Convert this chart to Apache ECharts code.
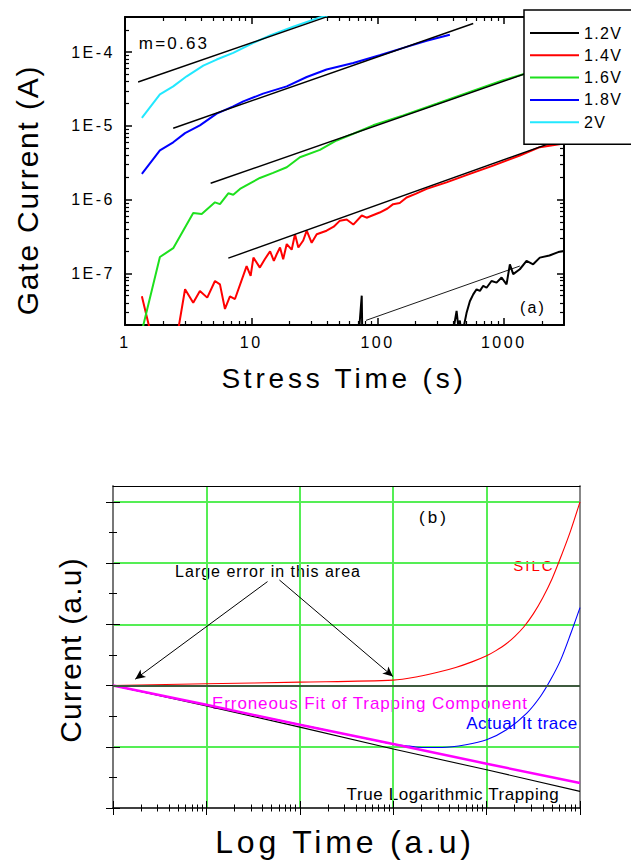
<!DOCTYPE html>
<html>
<head>
<meta charset="utf-8">
<title>Gate current vs stress time</title>
<script src="https://cdn.jsdelivr.net/npm/echarts@6/dist/echarts.min.js"></script>
<style>
html,body{margin:0;padding:0;background:#fff;}
#main{width:631px;height:861px;}
</style>
</head>
<body>
<div id="main"></div>
<script>
// ---- panel (a): gate current vs stress time, [time (s), current (A)]
var legendNames = ['1.2V', '1.4V', '1.6V', '1.8V', '2V'];
var lineColors = ['#000000', '#ff0000', '#1de01d', '#0000ff', '#22e8ff'];

var v12 = [[66,5e-9],[72,2e-8],[75,5e-8],[76.5,5e-9],[390,5e-9],[405,2e-8],[423,3.1e-8],[435,2e-8],[449,2.3e-8],
    [462,1.5e-8],[476,1.7e-8],[507,2.9e-8],[539,4.2e-8],[573,5.2e-8],[609,6.1e-8],[647,5.8e-8],[688,6.8e-8],
    [731,6.4e-8],[800,7.9e-8],[877,7.5e-8],[961,8.8e-8],[1052,7.1e-8],[1118,1.33e-7],[1188,9.8e-8],[1340,1.14e-7],
    [1515,1.48e-7],[1709,1.33e-7],[1930,1.64e-7],[2300,1.75e-7],[2700,1.95e-7],[3000,2.02e-7]];
var v14 = [[1.36,4.9e-8],[1.7,1e-8],[2.5,1e-8],[2.99,6.1e-8],[3.47,4.0e-8],[3.92,5.8e-8],[4.48,4.7e-8],[5.16,7.9e-8],
    [5.65,7.1e-8],[6.19,3.3e-8],[6.78,4.9e-8],[7.43,4.5e-8],[9.19,1.26e-7],[9.89,9.3e-8],[10.4,1.64e-7],[11.7,1.2e-7],
    [12.8,1.56e-7],[14.1,2.0e-7],[15.1,1.48e-7],[15.9,1.82e-7],[16.9,2.25e-7],[17.9,1.56e-7],[19.1,2.5e-7],[20.9,2.1e-7],
    [22.2,3.4e-7],[23.6,2.25e-7],[25.8,2.8e-7],[27.5,3.8e-7],[30.1,2.6e-7],[33,3.4e-7],[39.5,3.8e-7],[45,4.3e-7],
    [50.4,5.2e-7],[57,5.4e-7],[64.3,4.6e-7],[75,6.1e-7],[82,5.7e-7],[104,6.7e-7],[120,7.6e-7],[133,8.7e-7],[150,9.0e-7],
    [170,1.07e-6],[200,1.2e-6],[245,1.4e-6],[352,1.72e-6],[539,2.24e-6],[824,2.9e-6],[1340,3.97e-6],[1930,5.15e-6],[3000,5.8e-6]];
var v16 = [[1.3,1.2e-8],[1.89,1.67e-7],[2.41,2.2e-7],[3.47,6.6e-7],[4.05,6.4e-7],[5.16,9.2e-7],[5.65,8.7e-7],[6.58,1.22e-6],
    [7.2,1.17e-6],[8.14,1.4e-6],[9.77,1.67e-6],[11.7,1.97e-6],[14.9,2.31e-6],[19.1,2.75e-6],[24.3,3.77e-6],[35,4.74e-6],
    [47.4,6.35e-6],[64.3,7.83e-6],[92.4,1.02e-5],[160,1.39e-5],[294,2.0e-5],[539,2.88e-5],[989,4.16e-5],[1425,5.02e-5],
    [2000,5.9e-5],[2600,6.6e-5]];
var v18 = [[1.36,2.24e-6],[1.89,4.65e-6],[2.41,6.0e-6],[2.99,8.0e-6],[3.92,1.02e-5],[5.32,1.47e-5],[7.2,1.84e-5],[8.65,2.15e-5],
    [12.4,2.74e-5],[19.1,3.44e-5],[27.5,4.61e-5],[39.5,5.82e-5],[64.3,7.15e-5],[104,9.1e-5],[170,1.18e-4],[245,1.43e-4],[374,1.72e-4]];
var v20 = [[1.36,1.29e-5],[1.89,2.68e-5],[2.41,3.44e-5],[3.08,4.71e-5],[4.17,6.59e-5],[5.32,7.95e-5],[7.2,9.8e-5],
    [10.4,1.34e-4],[14.1,1.69e-4],[21.5,2.21e-4],[35,2.96e-4],[40,3.1e-4]];

// straight power-law fits (black)
var fit12 = [[81,2.31e-8],[1340,1.26e-7]];
var fit14 = [[6.58,1.61e-7],[3000,6.8e-6]];
var fit16 = [[4.77,1.67e-6],[3000,7.8e-5]];
var fit18 = [[2.41,9.3e-6],[573,2.45e-4]];
var fit20 = [[1.27,3.94e-5],[39.5,3.02e-4]];

// ---- panel (b): current (a.u) vs log time (a.u)
var silcT = [1,10,100,1000,1860,3076,4667,7080,10000,12590,15850,19950,25120,31620,39810,50120,63100,79430,100000];
var silcI = [0,0.028,0.055,0.088,0.147,0.22,0.294,0.39,0.485,0.57,0.67,0.8,0.96,1.17,1.43,1.74,2.12,2.53,3.0];
var actualT = [1,10,100,1000,1500,2027,3343,6000,10000,16330,26970,37670,48380,62140,79810,100000];
var actualI = [0,-0.319,-0.637,-0.956,-0.99,-1.011,-1.011,-0.967,-0.886,-0.723,-0.45,-0.179,0.093,0.419,0.854,1.273];
var fitT = [1,10,100,1000,10000,100000];
var fitI = [0,-0.315,-0.641,-0.956,-1.277,-1.593];
var trueT = [1,10,100,1000,10000,100000];
var trueI = [0,-0.332,-0.679,-1.038,-1.375,-1.729];

// ticks
var minorMult = [2,3,4,5,6,7,8,9];
var bMajorY = [-2,-1,0,1,2,3];
var bMinorY = [-1.5,-0.5,0.5,1.5,2.5];

var font = '"Liberation Sans", Arial, sans-serif';

// the original export spreads its letters out; px of extra spacing per text
var spacing = {
    'Gate Current (A)': 1.8, 'Stress Time (s)': 3.8, 'Current (a.u)': 1.2, 'Log Time (a.u)': 3.8,
    'm=0.63': 2.2, '(a)': 2.2, '(b)': 3, 'SILC': 2,
    'Large error in this area': 1, 'Erroneous Fit of Trapping Component': 0.9,
    'Actual It trace': 0.5, 'True Logarithmic Trapping': 0.6,
    '1.2V': 1.3, '1.4V': 1.3, '1.6V': 1.3, '1.8V': 1.3, '2V': 1.3
};

function pairs(xs, ys) {
    var out = [];
    for (var i = 0; i < xs.length; i++) out.push([xs[i], ys[i]]);
    return out;
}
function logMinor(lo, hi) {
    var out = [];
    for (var d = Math.floor(lo); d < hi; d++) {
        for (var k = 0; k < minorMult.length; k++) {
            var v = d + Math.log10(minorMult[k]);
            if (v > lo && v < hi) out.push(v);
        }
    }
    return out;
}
function isPow(v) {
    var e = Math.log10(v);
    return Math.abs(e - Math.round(e)) < 1e-6;
}

var aX = [1, 3000], aY = [2e-8, 3e-4];
var aLX = [0, Math.log10(3000)], aLY = [Math.log10(2e-8), Math.log10(3e-4)];
var gridA = {left: 125, top: 17, width: 439, height: 308};
var gridB = {left: 113, top: 486, width: 467, height: 322};

function g(r) { return {left: r.left, top: r.top, width: r.width, height: r.height}; }
// helper axis: everything hidden unless switched on, never snapped to zero
function blankAxis(extra) {
    var a = {axisLine: {show: false, onZero: false}, axisTick: {show: false}, axisLabel: {show: false}, splitLine: {show: false}};
    for (var k in extra) a[k] = extra[k];
    if (a.axisLine) a.axisLine.onZero = false;
    return a;
}

var blk = {color: '#000', width: 2};

var xAxes = [
    // (a) main
    {gridIndex: 0, type: 'log', min: aX[0], max: aX[1], position: 'bottom',
        axisLine: {onZero: false, lineStyle: blk}, axisTick: {inside: true, length: 7, lineStyle: {color: '#000', width: 1.5}},
        axisLabel: {fontSize: 16, fontFamily: font, color: '#000', margin: 9,
            formatter: function (v) { return isPow(v) ? String(Math.round(v)) : ''; }},
        splitLine: {show: false}},
    {gridIndex: 1, type: 'log', min: aX[0], max: aX[1], position: 'top',
        axisLine: {onZero: false, lineStyle: blk}, axisTick: {inside: true, length: 7, lineStyle: {color: '#000', width: 1.5}},
        axisLabel: {show: false}, splitLine: {show: false}},
    blankAxis({gridIndex: 2, type: 'value', min: aLX[0], max: aLX[1], position: 'bottom',
        axisTick: {show: true, inside: true, length: 4, customValues: logMinor(aLX[0], aLX[1]), lineStyle: {color: '#000', width: 1.2}}}),
    blankAxis({gridIndex: 3, type: 'value', min: aLX[0], max: aLX[1], position: 'top',
        axisTick: {show: true, inside: true, length: 4, customValues: logMinor(aLX[0], aLX[1]), lineStyle: {color: '#000', width: 1.2}}}),
    // (b) main
    {gridIndex: 4, type: 'log', min: 1, max: 100000, position: 'bottom',
        axisLine: {onZero: false, lineStyle: {color: '#000', width: 1.5}}, axisTick: {show: false}, axisLabel: {show: false},
        splitLine: {show: true, showMinLine: false, showMaxLine: false, lineStyle: {color: '#55ee55', width: 2}}},
    blankAxis({gridIndex: 5, type: 'log', min: 1, max: 100000, position: 'bottom', offset: 7,
        axisTick: {show: true, inside: true, length: 14, lineStyle: {color: '#000', width: 1}}}),
    blankAxis({gridIndex: 6, type: 'value', min: 0, max: 5, position: 'bottom', offset: 3.5,
        axisTick: {show: true, inside: true, length: 7, customValues: logMinor(0, 5), lineStyle: {color: '#000', width: 1}}}),
    blankAxis({gridIndex: 7, type: 'value', min: 0, max: 5, position: 'top',
        axisLine: {show: true, lineStyle: {color: '#000', width: 1}}})
];

var yAxes = [
    {gridIndex: 0, type: 'log', min: aY[0], max: aY[1], position: 'left',
        axisLine: {onZero: false, lineStyle: blk}, axisTick: {inside: true, length: 7, lineStyle: {color: '#000', width: 1.5}},
        axisLabel: {fontSize: 16, fontFamily: font, color: '#000', margin: 10,
            formatter: function (v) { return isPow(v) ? '1E' + Math.round(Math.log10(v)) : ''; }},
        splitLine: {show: false}},
    {gridIndex: 1, type: 'log', min: aY[0], max: aY[1], position: 'right',
        axisLine: {onZero: false, lineStyle: blk}, axisTick: {inside: true, length: 7, lineStyle: {color: '#000', width: 1.5}},
        axisLabel: {show: false}, splitLine: {show: false}},
    blankAxis({gridIndex: 2, type: 'value', min: aLY[0], max: aLY[1], position: 'left',
        axisTick: {show: true, inside: true, length: 4, customValues: logMinor(aLY[0], aLY[1]), lineStyle: {color: '#000', width: 1.2}}}),
    blankAxis({gridIndex: 3, type: 'value', min: aLY[0], max: aLY[1], position: 'right',
        axisTick: {show: true, inside: true, length: 4, customValues: logMinor(aLY[0], aLY[1]), lineStyle: {color: '#000', width: 1.2}}}),
    {gridIndex: 4, type: 'value', min: -2, max: 3.258, interval: 1, position: 'left',
        axisLine: {onZero: false, lineStyle: {color: '#777', width: 2}}, axisTick: {show: false}, axisLabel: {show: false},
        splitLine: {show: true, showMinLine: false, showMaxLine: false, lineStyle: {color: '#55ee55', width: 2}}},
    blankAxis({gridIndex: 5, type: 'value', min: -2, max: 3.258, position: 'left', offset: 7,
        axisTick: {show: true, inside: true, length: 14, customValues: bMajorY, lineStyle: {color: '#000', width: 1}}}),
    blankAxis({gridIndex: 6, type: 'value', min: -2, max: 3.258, position: 'left', offset: 4,
        axisTick: {show: true, inside: true, length: 8, customValues: bMinorY, lineStyle: {color: '#000', width: 1}}}),
    blankAxis({gridIndex: 7, type: 'value', min: -2, max: 3.258, position: 'right',
        axisLine: {show: true, lineStyle: {color: '#888', width: 2}}})
];

var aData = [v12, v14, v16, v18, v20];
var series = [];
for (var i = 0; i < aData.length; i++) {
    series.push({name: legendNames[i], type: 'line', xAxisIndex: 0, yAxisIndex: 0, data: aData[i],
        symbol: 'none', color: lineColors[i], itemStyle: {opacity: 0},
        lineStyle: {width: 2, color: lineColors[i]}, z: 2});
}
var fits = [fit12, fit14, fit16, fit18, fit20];
for (var j = 0; j < fits.length; j++) {
    series.push({name: 'fit' + j, type: 'line', xAxisIndex: 0, yAxisIndex: 0, data: fits[j],
        symbol: 'none', lineStyle: {width: j === 0 ? 0.9 : 1.4, color: '#000'}, z: 3, silent: true});
}

// panel (b)
series.push({name: 'True Logarithmic Trapping', type: 'line', xAxisIndex: 4, yAxisIndex: 4,
    data: pairs(trueT, trueI), symbol: 'none', lineStyle: {width: 1.1, color: '#000'}, silent: true,
    markLine: {silent: true, symbol: 'none', label: {show: false},
        lineStyle: {color: '#3e5a3e', width: 2, type: 'solid'},
        data: [{yAxis: 0}]}});
series.push({name: 'Actual It trace', type: 'line', xAxisIndex: 4, yAxisIndex: 4,
    data: pairs(actualT, actualI), symbol: 'none', smooth: 0.3, lineStyle: {width: 1.1, color: '#0000ff'}, silent: true});
series.push({name: 'Erroneous Fit', type: 'line', xAxisIndex: 4, yAxisIndex: 4,
    data: pairs(fitT, fitI), symbol: 'none', lineStyle: {width: 2.5, color: '#ff00ff'}, silent: true});
series.push({name: 'SILC', type: 'line', xAxisIndex: 4, yAxisIndex: 4,
    data: pairs(silcT, silcI), symbol: 'none', smooth: 0.3,
    lineStyle: {width: 1.1, color: '#ff0000'}, silent: true,
    markLine: {silent: true, symbol: ['none', 'arrow'], symbolSize: [7, 10], label: {show: false},
        lineStyle: {color: '#000', width: 1, type: 'solid'},
        data: [
            [{coord: [45.1, 1.697]}, {coord: [1.73, 0.104]}],
            [{coord: [60.4, 1.724]}, {coord: [993, 0.147]}]
        ]}});

function txt(s, x, y, size, color, rot) {
    return {type: 'text', x: x, y: y, rotation: rot || 0, silent: true,
        style: {text: s, font: size + 'px ' + font, fill: color || '#000',
            align: 'center', verticalAlign: 'middle', textAlign: 'center', textVerticalAlign: 'middle'}};
}

var option = {
    animation: false,
    backgroundColor: '#fff',
    grid: [g(gridA), g(gridA), g(gridA), g(gridA), g(gridB), g(gridB), g(gridB), g(gridB)],
    xAxis: xAxes,
    yAxis: yAxes,
    legend: {data: legendNames, orient: 'vertical', left: 524, top: 10, itemWidth: 49, itemHeight: 14, itemGap: 6.3,
        padding: [15, 40, 14, 5], borderColor: '#000', borderWidth: 1.5, backgroundColor: '#fff',
        itemStyle: {opacity: 0},
        textStyle: {fontSize: 16, fontFamily: font, color: '#000'}, selectedMode: false},
    graphic: [
        txt('Gate Current (A)', 27, 190, 30, '#000', Math.PI / 2),
        txt('Stress Time (s)', 344, 378, 28),
        txt('m=0.63', 174, 43, 17),
        txt('(a)', 533, 307, 16),
        txt('Current (a.u)', 70, 650, 30, '#000', Math.PI / 2),
        txt('Log Time (a.u)', 345, 842, 32),
        txt('(b)', 434, 517, 17),
        txt('SILC', 534, 565, 15, '#ff0000'),
        txt('Large error in this area', 268, 571, 16),
        txt('Erroneous Fit of Trapping Component', 370, 703, 17, '#ff00ff'),
        txt('Actual It trace', 522, 723, 17, '#0000ff'),
        txt('True Logarithmic Trapping', 453, 794, 17)
    ],
    series: series
};

var chart = echarts.init(document.getElementById('main'), null, {renderer: 'svg'});
chart.setOption(option);

function spreadLetters() {
    var nodes = document.querySelectorAll('#main text');
    for (var k = 0; k < nodes.length; k++) {
        var s = nodes[k].textContent;
        var ls = spacing.hasOwnProperty(s) ? spacing[s] : 2.5; // tick labels
        nodes[k].style.letterSpacing = ls + 'px';
    }
}
spreadLetters();
chart.on('finished', spreadLetters);
</script>
</body>
</html>
